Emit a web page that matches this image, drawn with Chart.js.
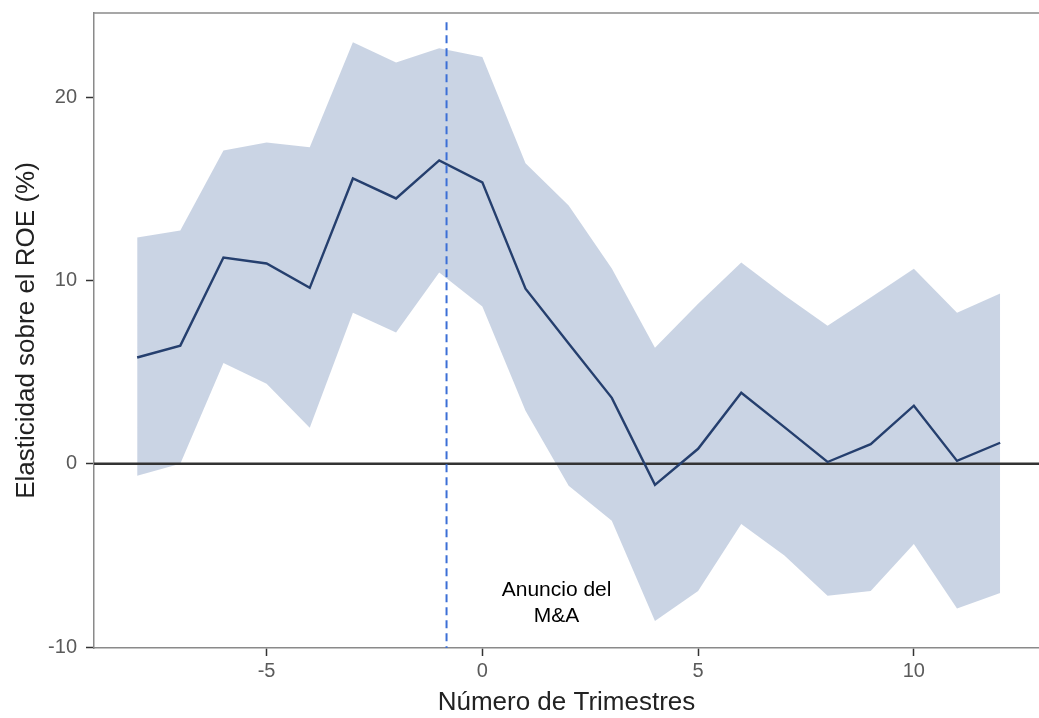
<!DOCTYPE html>
<html lang="es">
<head>
    <meta charset="UTF-8">
    <title>Elasticidad sobre el ROE</title>
    <script src="https://cdn.jsdelivr.net/npm/chart.js"></script>
    <style>
        body, html {
            margin: 0;
            padding: 0;
            width: 100%;
            height: 100%;
            overflow: hidden;
            background: #ffffff;
        }
        #wrap {
            position: relative;
            width: 1039px;
            height: 718px;
        }
    </style>
</head>
<body>
    <div id="wrap"><canvas id="roeChart"></canvas></div>

    <script>
        // trimestres relativos al anuncio
        const quarters = [-8, -7, -6, -5, -4, -3, -2, -1, 0, 1, 2, 3, 4, 5, 6, 7, 8, 9, 10, 11, 12];
        const estimate = [5.8, 6.45, 11.26, 10.93, 9.6, 15.57, 14.48, 16.56, 15.36, 9.56, 6.56, 3.6, -1.15, 0.82, 3.88, 2.0, 0.1, 1.07, 3.17, 0.16, 1.15];
        const upperCI = [12.35, 12.73, 17.1, 17.54, 17.27, 23.0, 21.9, 22.68, 22.2, 16.4, 14.1, 10.66, 6.34, 8.74, 10.98, 9.2, 7.54, 9.07, 10.65, 8.25, 9.29];
        const lowerCI = [-0.65, 0.0, 5.5, 4.37, 1.97, 8.25, 7.16, 10.44, 8.58, 2.9, -1.2, -3.1, -8.58, -6.94, -3.28, -5.0, -7.2, -6.94, -4.37, -7.9, -7.05];
        const yTicks = [-10, 0, 10, 20];
        const xTicks = [-5, 0, 5, 10];
        const announceQuarter = -0.83;
        const annotationLines = ['Anuncio del', 'M&A'];

        const xMin = -9, xMax = 12.9;
        const yMin = -10.05, yMax = 24.6;
        const FONT = '"Liberation Sans", Arial, sans-serif';

        const toPoints = vals => quarters.map((q, i) => ({ x: q, y: vals[i] }));

        const frameAndLabel = {
            id: 'frameAndLabel',
            afterDatasetsDraw(chart) {
                const { ctx, chartArea, scales } = chart;
                ctx.save();
                // borde superior del panel
                ctx.strokeStyle = '#8a8a8a';
                ctx.lineWidth = 1.5;
                ctx.beginPath();
                ctx.moveTo(chartArea.left, chartArea.top);
                ctx.lineTo(chartArea.right, chartArea.top);
                ctx.stroke();
                // texto del anuncio
                ctx.fillStyle = '#000000';
                ctx.font = '21px ' + FONT;
                ctx.textAlign = 'center';
                ctx.textBaseline = 'middle';
                const x = scales.x.getPixelForValue(1.72);
                ctx.fillText(annotationLines[0], x, scales.y.getPixelForValue(-6.89));
                ctx.fillText(annotationLines[1], x, scales.y.getPixelForValue(-8.33));
                ctx.restore();
            }
        };

        const ctx = document.getElementById('roeChart').getContext('2d');
        new Chart(ctx, {
            type: 'scatter',
            data: {
                datasets: [
                    {
                        label: 'upper',
                        data: toPoints(upperCI),
                        showLine: true,
                        borderWidth: 0,
                        pointRadius: 0,
                        backgroundColor: 'rgba(184, 197, 219, 0.75)',
                        fill: '+1',
                        order: 5
                    },
                    {
                        label: 'lower',
                        data: toPoints(lowerCI),
                        showLine: true,
                        borderWidth: 0,
                        pointRadius: 0,
                        fill: false,
                        order: 5
                    },
                    {
                        label: 'zero',
                        data: [{ x: xMin, y: 0 }, { x: xMax, y: 0 }],
                        showLine: true,
                        borderColor: '#333333',
                        borderWidth: 2.4,
                        pointRadius: 0,
                        order: 3
                    },
                    {
                        label: 'estimate',
                        data: toPoints(estimate),
                        showLine: true,
                        borderColor: '#253f6e',
                        borderWidth: 2.4,
                        pointRadius: 0,
                        order: 2
                    },
                    {
                        label: 'announce',
                        data: [{ x: announceQuarter, y: 24.1 }, { x: announceQuarter, y: yMin }],
                        showLine: true,
                        borderColor: '#3c6fd6',
                        borderWidth: 2,
                        borderDash: [8, 5],
                        pointRadius: 0,
                        order: 1
                    }
                ]
            },
            options: {
                responsive: true,
                maintainAspectRatio: false,
                animation: false,
                layout: { padding: { top: 13, right: 0, left: 0, bottom: 0 } },
                plugins: {
                    legend: { display: false },
                    tooltip: { enabled: false }
                },
                scales: {
                    x: {
                        type: 'linear',
                        min: xMin,
                        max: xMax,
                        afterBuildTicks: axis => { axis.ticks = xTicks.map(v => ({ value: v })); },
                        afterFit: axis => {
                            axis.height = 70;
                            axis.paddingLeft = 0;
                            axis.paddingRight = 0;
                        },
                        grid: {
                            drawOnChartArea: false,
                            drawTicks: true,
                            tickLength: 8,
                            tickColor: '#333333',
                            tickWidth: 1.5
                        },
                        border: { color: '#8a8a8a', width: 1.5 },
                        ticks: {
                            color: '#5a5a5a',
                            font: { size: 20, family: FONT },
                            padding: 3
                        },
                        title: {
                            display: true,
                            text: 'Número de Trimestres',
                            color: '#222222',
                            font: { size: 26, family: FONT },
                            padding: { top: 0, bottom: 0 }
                        }
                    },
                    y: {
                        min: yMin,
                        max: yMax,
                        afterBuildTicks: axis => { axis.ticks = yTicks.map(v => ({ value: v })); },
                        afterFit: axis => {
                            axis.width = 94;
                            axis.paddingTop = 0;
                            axis.paddingBottom = 0;
                        },
                        grid: {
                            drawOnChartArea: false,
                            drawTicks: true,
                            tickLength: 8,
                            tickColor: '#333333',
                            tickWidth: 1.5
                        },
                        border: { color: '#8a8a8a', width: 1.5 },
                        ticks: {
                            color: '#5a5a5a',
                            font: { size: 20, family: FONT },
                            padding: 9
                        },
                        title: {
                            display: true,
                            text: 'Elasticidad sobre el ROE (%)',
                            color: '#222222',
                            font: { size: 26, family: FONT },
                            padding: { top: 11, bottom: 0 }
                        }
                    }
                }
            },
            plugins: [frameAndLabel]
        });
    </script>
</body>
</html>
